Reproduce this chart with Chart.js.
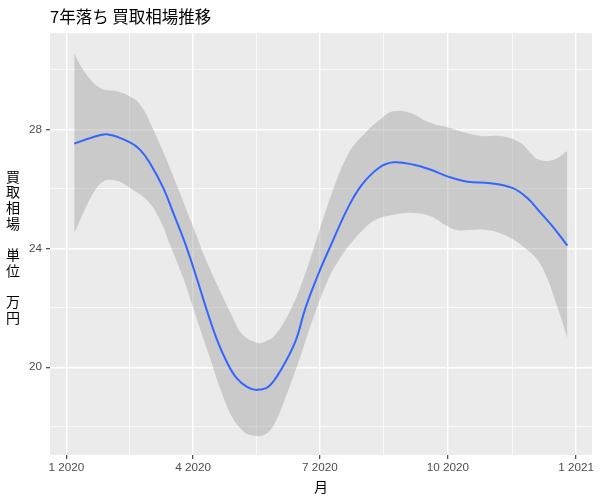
<!DOCTYPE html>
<html>
<head>
<meta charset="utf-8">
<script src="https://cdn.jsdelivr.net/npm/chart.js@4/dist/chart.umd.min.js"></script>
<style>
  body { margin: 0; background: #fff; }
  #grafico { display: block; }
</style>
</head>
<body>
<canvas id="grafico" width="600" height="500"></canvas>
<script>
// days since 2020-01-01
const fitDays = [5.7, 18, 30, 45.7, 53, 60, 69.6, 76.8, 85.2, 93.6, 101, 108, 115, 122, 130, 137, 145.3, 154.8, 164.4, 171.6, 181.6, 190, 202.7, 212.3, 224.3, 235, 249.4, 261.6, 273.6, 288, 304.7, 320.2, 331, 340.6, 350.1, 359.7]
const fitVals = [27.52, 27.72, 27.83, 27.56, 27.31, 26.87, 26.03, 25.19, 24.18, 23.0, 21.9, 20.95, 20.2, 19.65, 19.33, 19.24, 19.35, 19.97, 20.86, 21.98, 23.21, 24.11, 25.41, 26.14, 26.70, 26.89, 26.81, 26.64, 26.42, 26.24, 26.19, 26.03, 25.69, 25.19, 24.68, 24.09]

const upperDays = [5.7, 12.2, 24.2, 36.2, 43.4, 53, 62.5, 72, 81.6, 90, 100, 110, 118.7, 126.1, 135.7, 141.7, 150, 161.5, 170.4, 177.6, 190.7, 202.7, 214.6, 226.6, 233.8, 245.8, 261.6, 273.6, 285.5, 297.5, 314.2, 326.2, 333.4, 339.3, 350.1, 359.7]
const upperVals = [30.54, 30.0, 29.39, 29.28, 29.16, 28.83, 27.99, 26.98, 25.85, 24.85, 23.65, 22.6, 21.76, 21.12, 20.84, 20.84, 21.09, 21.98, 22.99, 24.0, 25.86, 27.20, 27.88, 28.38, 28.60, 28.57, 28.21, 28.07, 27.90, 27.78, 27.76, 27.54, 27.20, 26.98, 26.98, 27.27]

const lowerDays = [5.7, 12.2, 19.4, 26.6, 36.2, 45.7, 57.7, 67.3, 74.4, 84, 91.2, 103.2, 110.3, 118.7, 126.1, 132.1, 141.7, 148.9, 157.2, 166.8, 176.4, 188.4, 197, 205, 213, 221.8, 233.8, 249.4, 261.6, 273.6, 280.7, 297.5, 309.4, 321.4, 329, 338.1, 345.3, 351.3, 356.1, 359.7]
const lowerVals = [24.51, 25.19, 25.86, 26.25, 26.27, 26.03, 25.63, 24.96, 24.12, 22.99, 21.98, 20.30, 19.3, 18.35, 17.9, 17.72, 17.72, 18.06, 18.96, 20.19, 21.53, 22.99, 23.7, 24.2, 24.62, 24.95, 25.12, 25.19, 25.08, 24.74, 24.61, 24.63, 24.54, 24.28, 24.02, 23.62, 22.99, 22.20, 21.53, 20.97]

const xTickDays = [0, 91, 182, 274, 366]
const xTickLabels = ['1 2020', '4 2020', '7 2020', '10 2020', '1 2021']
const xMinorDays = [45.5, 136.5, 228, 320]
const yTicks = [20, 24, 28]
const yMinor = [18, 22, 26, 30]

const titulo = '7年落ち 買取相場推移'
const tituloX = '月'
const tituloY = ['買', '取', '相', '場', '', '単', '位', '', '万', '円']

function pontos(xs, ys) {
    return xs.map((x, i) => ({ x: x, y: ys[i] }))
}

const fundo = {
    id: 'fundo',
    beforeDraw(chart) {
        const c = chart.ctx
        const a = chart.chartArea
        c.save()
        c.fillStyle = '#ffffff'
        c.fillRect(0, 0, chart.width, chart.height)
        c.fillStyle = '#EBEBEB'
        c.fillRect(a.left, a.top, a.right - a.left, a.bottom - a.top)
        c.restore()
    }
}

const textos = {
    id: 'textos',
    afterDraw(chart) {
        const c = chart.ctx
        const a = chart.chartArea
        c.save()
        c.fillStyle = '#000'
        c.font = '16.5px "Noto Sans CJK JP"'
        c.textAlign = 'left'
        c.textBaseline = 'alphabetic'
        c.fillText(titulo, a.left, 23)
        c.font = '14px "Noto Sans CJK JP"'
        c.textAlign = 'center'
        c.textBaseline = 'middle'
        c.fillText(tituloX, (a.left + a.right) / 2, 487)
        const meio = (a.top + a.bottom) / 2 + 3
        const n = tituloY.length
        tituloY.forEach((t, i) => {
            c.fillText(t, 13, meio + (i - (n - 1) / 2) * 15.7)
        })
        c.restore()
    }
}

const isMajorX = v => xTickDays.includes(v)
const isMajorY = v => yTicks.includes(v)

const config = {
    type: 'line',
    data: {
        datasets: [
            {
                label: 'fit',
                data: pontos(fitDays, fitVals),
                borderColor: '#3366FF',
                borderWidth: 2,
                pointRadius: 0,
                tension: 0.4,
                fill: false
            },
            {
                label: 'upper',
                data: pontos(upperDays, upperVals),
                borderWidth: 0,
                borderColor: 'rgba(0,0,0,0)',
                backgroundColor: 'rgba(153,153,153,0.4)',
                pointRadius: 0,
                tension: 0.4,
                fill: '+1'
            },
            {
                label: 'lower',
                data: pontos(lowerDays, lowerVals),
                borderWidth: 0,
                borderColor: 'rgba(0,0,0,0)',
                pointRadius: 0,
                tension: 0.4,
                fill: false
            }
        ]
    },
    options: {
        responsive: false,
        animation: false,
        layout: { padding: { left: 0, right: 8, top: 33, bottom: 0 } },
        plugins: {
            legend: { display: false },
            tooltip: { enabled: false },
            title: { display: false }
        },
        scales: {
            x: {
                type: 'linear',
                min: -11.7,
                max: 377.4,
                afterBuildTicks: s => {
                    s.ticks = xTickDays.concat(xMinorDays).sort((a, b) => a - b).map(v => ({ value: v }))
                },
                afterFit: s => { s.height = 45 },
                border: { display: false },
                grid: {
                    color: '#ffffff',
                    lineWidth: ctx => isMajorX(ctx.tick.value) ? 1.4 : 0.7,
                    drawTicks: true,
                    tickLength: 4,
                    tickWidth: 1.1,
                    tickColor: ctx => isMajorX(ctx.tick.value) ? '#333333' : 'rgba(0,0,0,0)'
                },
                ticks: {
                    autoSkip: false,
                    maxRotation: 0,
                    padding: 2,
                    color: '#4D4D4D',
                    font: { family: 'Liberation Sans', size: 11.7 },
                    callback: v => {
                        const i = xTickDays.indexOf(v)
                        return i >= 0 ? xTickLabels[i] : ''
                    }
                }
            },
            y: {
                type: 'linear',
                min: 17.05,
                max: 31.24,
                afterBuildTicks: s => {
                    s.ticks = yTicks.concat(yMinor).sort((a, b) => a - b).map(v => ({ value: v }))
                },
                afterFit: s => { s.width = 50 },
                border: { display: false },
                grid: {
                    color: '#ffffff',
                    lineWidth: ctx => isMajorY(ctx.tick.value) ? 1.4 : 0.7,
                    drawTicks: true,
                    tickLength: 4,
                    tickWidth: 1.1,
                    tickColor: ctx => isMajorY(ctx.tick.value) ? '#333333' : 'rgba(0,0,0,0)'
                },
                ticks: {
                    autoSkip: false,
                    padding: 4,
                    color: '#4D4D4D',
                    font: { family: 'Liberation Sans', size: 11.7 },
                    callback: v => isMajorY(v) ? String(v) : ''
                }
            }
        }
    },
    plugins: [fundo, textos]
}

let graf = document.querySelector('#grafico').getContext('2d')
let myChart = new Chart(graf, config)
</script>
</body>
</html>
